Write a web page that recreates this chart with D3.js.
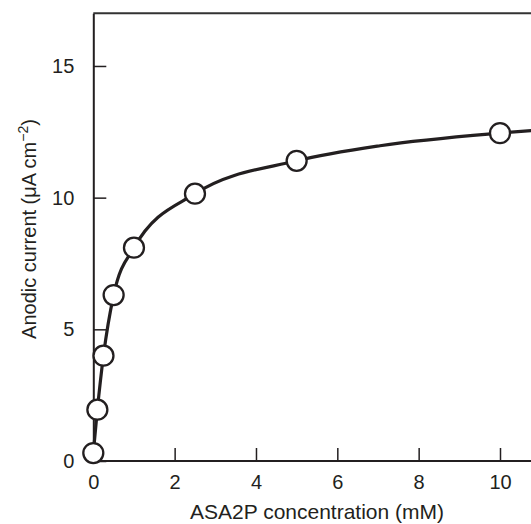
<!DOCTYPE html>
<html>
<head>
<meta charset="utf-8">
<script src="https://cdn.jsdelivr.net/npm/d3@7"></script>
<style>
  html, body { margin: 0; padding: 0; background: #fff; }
  svg { display: block; }
  text { font-family: "Liberation Sans", Arial, Helvetica, sans-serif; fill: #231f20; }
</style>
</head>
<body>
<script>
// Measured data points (ASA2P concentration in mM, anodic current in µA cm^-2)
const concentration = [0, 0.1, 0.25, 0.5, 1, 2.5, 5, 10];
const current = [0.3, 1.95, 4.0, 6.3, 8.1, 10.15, 11.4, 12.45];

// Fitted curve
const curveX = [0, 0.1, 0.25, 0.5, 1, 2.5, 5, 7.05, 10, 10.8];
const curveY = [0.3, 1.95, 4.0, 6.3, 8.1, 10.15, 11.4, 11.97, 12.45, 12.55];

const xTicks = [0, 2, 4, 6, 8, 10];
const yTicks = [0, 5, 10, 15];

const W = 531, H = 524;
const ink = "#231f20";

const svg = d3.select("body").append("svg").attr("width", W).attr("height", H);

const x = d3.scaleLinear().domain([0, 10]).range([93.3, 500]);
const y = d3.scaleLinear().domain([0, 17]).range([461, 13.3]);

// top border
svg.append("line")
  .attr("x1", x(0)).attr("x2", W)
  .attr("y1", y(17)).attr("y2", y(17))
  .attr("stroke", "#333").attr("stroke-width", 2);

// x axis
const gx = svg.append("g").attr("transform", `translate(0,${y(0)})`)
  .call(d3.axisBottom(x).tickValues(xTicks).tickFormat(d3.format("d"))
    .tickSizeInner(-13).tickSizeOuter(0).tickPadding(14));
gx.select(".domain").attr("d", `M${x(0)},0H${W}`).attr("stroke", ink).attr("stroke-width", 2);
gx.selectAll(".tick line").attr("stroke", ink).attr("stroke-width", 1.5);
gx.selectAll(".tick text").attr("font-size", 20).style("fill", ink);

// y axis
const gy = svg.append("g").attr("transform", `translate(${x(0)},0)`)
  .call(d3.axisLeft(y).tickValues(yTicks).tickFormat(d3.format("d"))
    .tickSizeInner(-13).tickSizeOuter(0).tickPadding(19));
gy.select(".domain").attr("stroke", ink).attr("stroke-width", 2);
gy.selectAll(".tick line").attr("stroke", ink).attr("stroke-width", 1.5);
gy.selectAll(".tick text").attr("font-size", 20).style("fill", ink);

// axis titles
svg.append("text")
  .attr("x", 317).attr("y", 519)
  .attr("text-anchor", "middle").attr("font-size", 21)
  .text("ASA2P concentration (mM)");

const yt = svg.append("text")
  .attr("transform", `translate(35.5,229) rotate(-90)`)
  .attr("text-anchor", "middle").attr("font-size", 20);
yt.append("tspan").text("Anodic current (\u03bcA cm");
yt.append("tspan").attr("font-size", 14).attr("dy", -8).text("\u22122");
yt.append("tspan").attr("dy", 8).text(")");

// curve
const curveData = curveX.map((d, i) => [d, curveY[i]]);
const line = d3.line().x(d => x(d[0])).y(d => y(d[1])).curve(d3.curveMonotoneX);
svg.append("path").datum(curveData)
  .attr("d", line)
  .attr("fill", "none").attr("stroke", ink).attr("stroke-width", 3.2)
  .attr("stroke-linejoin", "round");

// points
svg.append("g").selectAll("circle")
  .data(concentration.map((d, i) => [d, current[i]]))
  .join("circle")
  .attr("cx", d => x(d[0])).attr("cy", d => y(d[1]))
  .attr("r", 10)
  .attr("fill", "#fff").attr("stroke", ink).attr("stroke-width", 2.3);
</script>
</body>
</html>
